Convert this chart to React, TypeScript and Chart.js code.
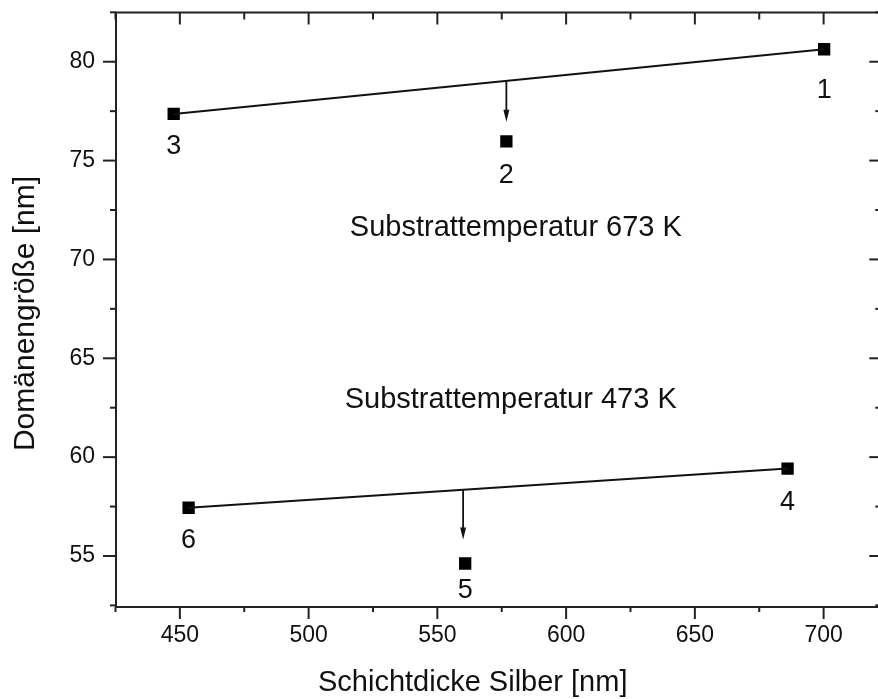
import React, { useEffect, useRef } from "react";
import { Chart, registerables } from "chart.js";

Chart.register(...registerables);

// ---- data ----
const thickness673 = [700.2, 576.8, 447.6];
const domain673 = [80.63, 75.97, 77.36];
const labels673 = ["1", "2", "3"];

const thickness473 = [686.0, 560.8, 453.4];
const domain473 = [59.42, 54.62, 57.44];
const labels473 = ["4", "5", "6"];

// arrows: x position and arrow-tip value
const arrowX = [576.8, 560.0];
const arrowTipY = [76.96, 55.83];

const annotationTexts = ["Substrattemperatur 673 K", "Substrattemperatur 473 K"];
const annotationX = [516, 514];
const annotationY = [71.58, 62.88];

const xMajorTicks = [450, 500, 550, 600, 650, 700];
const xMinorTicks = [425, 475, 525, 575, 625, 675, 725];
const yMajorTicks = [55, 60, 65, 70, 75, 80];
const yMinorTicks = [52.5, 57.5, 62.5, 67.5, 72.5, 77.5, 82.5];

const xTitle = "Schichtdicke Silber [nm]";
const yTitle = "Domänengröße [nm]";

const FONT = "'Liberation Sans', Arial, Helvetica, sans-serif";
const INK = "#111";

export default function App() {
  const ref = useRef<HTMLCanvasElement | null>(null);

  useEffect(() => {
    const canvas = ref.current;
    if (!canvas) return;

    const pts673 = thickness673.map((x, i) => ({ x, y: domain673[i] }));
    const pts473 = thickness473.map((x, i) => ({ x, y: domain473[i] }));
    const line673 = [pts673[2], pts673[0]];
    const line473 = [pts473[2], pts473[0]];

    const decor = {
      id: "decor",
      afterDraw(chart: any) {
        const { ctx, chartArea: a, scales } = chart;
        const xs = scales.x;
        const ys = scales.y;
        ctx.save();
        ctx.strokeStyle = "#222";
        ctx.lineWidth = 2;
        ctx.strokeRect(a.left, a.top, a.right - a.left, a.bottom - a.top);

        const tick = (x1: number, y1: number, x2: number, y2: number) => {
          ctx.beginPath();
          ctx.moveTo(x1, y1);
          ctx.lineTo(x2, y2);
          ctx.stroke();
        };
        ctx.lineWidth = 2;
        xMajorTicks.forEach((v) => {
          const p = xs.getPixelForValue(v);
          tick(p, a.bottom, p, a.bottom + 12);
          tick(p, a.top, p, a.top + 12);
        });
        xMinorTicks.forEach((v) => {
          const p = xs.getPixelForValue(v);
          if (p < a.left - 1 || p > a.right + 1) return;
          tick(p, a.bottom, p, a.bottom + 5);
          tick(p, a.top, p, a.top + 7);
        });
        yMajorTicks.forEach((v) => {
          const p = ys.getPixelForValue(v);
          tick(a.left, p, a.left - 13, p);
          tick(a.right, p, a.right - 12, p);
        });
        yMinorTicks.forEach((v) => {
          const p = ys.getPixelForValue(v);
          if (p < a.top - 1 || p > a.bottom + 1) return;
          tick(a.left, p, a.left - 6, p);
          tick(a.right, p, a.right - 6, p);
        });

        // arrows from fit line down to the point
        const lines = [line673, line473];
        ctx.fillStyle = INK;
        ctx.strokeStyle = INK;
        arrowX.forEach((xv, i) => {
          const l = lines[i];
          const t = (xv - l[0].x) / (l[1].x - l[0].x);
          const yLine = l[0].y + t * (l[1].y - l[0].y);
          const px = xs.getPixelForValue(xv);
          const py0 = ys.getPixelForValue(yLine);
          const py1 = ys.getPixelForValue(arrowTipY[i]);
          ctx.lineWidth = 1.8;
          ctx.beginPath();
          ctx.moveTo(px, py0);
          ctx.lineTo(px, py1 - 8);
          ctx.stroke();
          ctx.beginPath();
          ctx.moveTo(px, py1);
          ctx.lineTo(px - 3, py1 - 12);
          ctx.lineTo(px + 3, py1 - 12);
          ctx.closePath();
          ctx.fill();
        });

        // point number labels
        ctx.font = `27px ${FONT}`;
        ctx.textAlign = "center";
        ctx.textBaseline = "middle";
        const off673 = [41, 34, 33];
        const off473 = [34, 27, 33];
        pts673.forEach((p, i) => {
          ctx.fillText(labels673[i], xs.getPixelForValue(p.x), ys.getPixelForValue(p.y) + off673[i]);
        });
        pts473.forEach((p, i) => {
          ctx.fillText(labels473[i], xs.getPixelForValue(p.x), ys.getPixelForValue(p.y) + off473[i]);
        });

        // annotations
        ctx.font = `29px ${FONT}`;
        ctx.textAlign = "left";
        annotationTexts.forEach((s, i) => {
          ctx.fillText(s, xs.getPixelForValue(annotationX[i]), ys.getPixelForValue(annotationY[i]));
        });

        // axis titles
        ctx.font = `29px ${FONT}`;
        ctx.textAlign = "left";
        ctx.fillText(xTitle, 318, 683);
        ctx.save();
        ctx.translate(26, 313.5);
        ctx.rotate(-Math.PI / 2);
        ctx.textAlign = "center";
        ctx.font = `30px ${FONT}`;
        ctx.fillText(yTitle, 0, 0);
        ctx.restore();

        ctx.restore();
      },
    };

    const chart = new Chart(canvas, {
      type: "scatter",
      data: {
        datasets: [
          {
            type: "line",
            data: line673,
            borderColor: INK,
            borderWidth: 2,
            pointRadius: 0,
            showLine: true,
            fill: false,
          } as any,
          {
            type: "line",
            data: line473,
            borderColor: INK,
            borderWidth: 2,
            pointRadius: 0,
            showLine: true,
            fill: false,
          } as any,
          {
            data: pts673,
            pointStyle: "rect",
            pointRadius: 8.7,
            backgroundColor: "#000",
            borderWidth: 0,
          },
          {
            data: pts473,
            pointStyle: "rect",
            pointRadius: 8.7,
            backgroundColor: "#000",
            borderWidth: 0,
          },
        ],
      },
      options: {
        responsive: false,
        animation: false,
        devicePixelRatio: 1,
        layout: { padding: { left: 0, top: 12.5, right: 8, bottom: 0 } },
        plugins: { legend: { display: false }, tooltip: { enabled: false } },
        scales: {
          x: {
            type: "linear",
            position: "bottom",
            min: 425.2,
            max: 722.4,
            grid: { display: false, drawTicks: false },
            border: { display: false },
            ticks: {
              stepSize: 50,
              includeBounds: false,
              padding: 15,
              color: INK,
              font: { family: FONT, size: 23 },
              maxRotation: 0,
            },
            afterFit: (s: any) => {
              s.height = 92;
              s.paddingLeft = 0;
              s.paddingRight = 0;
            },
          },
          y: {
            type: "linear",
            position: "left",
            min: 52.42,
            max: 82.49,
            grid: { display: false, drawTicks: false },
            border: { display: false },
            ticks: {
              stepSize: 5,
              includeBounds: false,
              padding: 21,
              color: INK,
              font: { family: FONT, size: 23 },
            },
            afterFit: (s: any) => {
              s.width = 116;
              s.paddingTop = 0;
              s.paddingBottom = 0;
            },
          },
        },
      },
      plugins: [decor],
    });

    return () => chart.destroy();
  }, []);

  return (
    <div
      style={{
        position: "absolute",
        left: 0,
        top: 0,
        width: 878,
        height: 699,
        overflow: "hidden",
        background: "#fff",
      }}
    >
      <canvas ref={ref} width={890} height={699} style={{ display: "block" }} />
    </div>
  );
}
